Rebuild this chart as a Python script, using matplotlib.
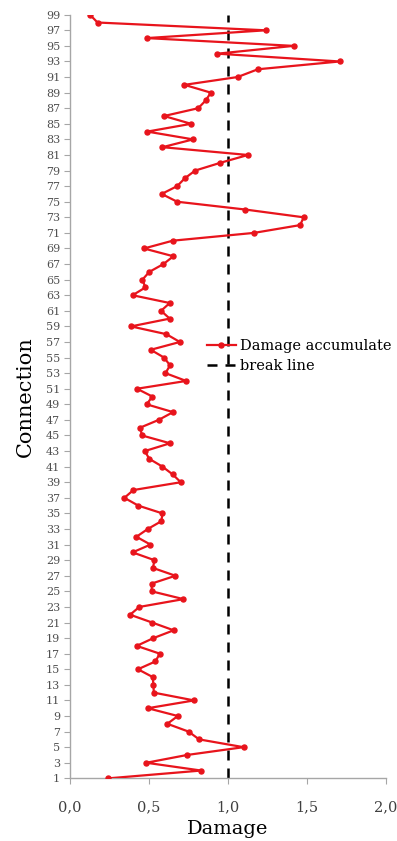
import numpy as np
import matplotlib
matplotlib.use("Agg")
import matplotlib.pyplot as plt
from matplotlib.ticker import FuncFormatter

# connection number and accumulated damage
connection = np.arange(1, 100)
damage = [
    0.243, 0.831, 0.484, 0.742, 1.099, 0.818, 0.751, 0.617, 0.683, 0.493,  # 1-10
    0.786, 0.531, 0.529, 0.524, 0.431, 0.541, 0.569, 0.423, 0.529, 0.657,  # 11-20
    0.520, 0.381, 0.440, 0.719, 0.518, 0.518, 0.668, 0.526, 0.535, 0.397,  # 21-30
    0.510, 0.421, 0.493, 0.579, 0.586, 0.433, 0.345, 0.402, 0.702, 0.651,  # 31-40
    0.586, 0.503, 0.474, 0.634, 0.457, 0.444, 0.562, 0.653, 0.486, 0.522,  # 41-50
    0.425, 0.736, 0.605, 0.634, 0.596, 0.512, 0.696, 0.611, 0.387, 0.632,  # 51-60
    0.577, 0.632, 0.397, 0.478, 0.459, 0.503, 0.592, 0.655, 0.469, 0.651,  # 61-70
    1.165, 1.457, 1.480, 1.110, 0.679, 0.581, 0.679, 0.727, 0.793, 0.953,  # 71-80
    1.127, 0.586, 0.780, 0.490, 0.767, 0.596, 0.812, 0.860, 0.892, 0.725,  # 81-90
    1.061, 1.190, 1.708, 0.934, 1.416, 0.486, 1.240, 0.175, 0.127,         # 91-99
]
break_value = 1.0

serif = ["DejaVu Serif"]
plt.rcParams["font.family"] = serif

fig = plt.figure(figsize=(3.97, 8.41), dpi=100)
ax = fig.add_axes([0.176, 0.0745, 0.796, 0.908])

ax.plot(damage, connection, color="#e8141c", lw=1.6, marker="o", ms=3.6,
        label="Damage accumulate", zorder=3)
ax.plot([break_value, break_value], [1, 99], color="black", lw=1.8,
        ls=(0, (4, 3.2)), label="break line", zorder=2)

ax.set_xlim(0, 2)
ax.set_ylim(1, 99)
ax.set_xticks([0, 0.5, 1.0, 1.5, 2.0])
ax.xaxis.set_major_formatter(FuncFormatter(lambda v, p: f"{v:.1f}".replace(".", ",")))
ax.set_yticks(np.arange(1, 100, 2))

for s in ["top", "right"]:
    ax.spines[s].set_visible(False)
for s in ["left", "bottom"]:
    ax.spines[s].set_color("#a6a6a6")
    ax.spines[s].set_linewidth(1.0)

ax.tick_params(axis="y", direction="out", length=4, color="#a6a6a6",
               labelsize=8, labelcolor="#505050", pad=3)
ax.tick_params(axis="x", direction="out", length=4, color="#a6a6a6",
               labelsize=10.5, labelcolor="#404040", pad=12)

ax.set_xlabel("Damage", fontsize=14, labelpad=4)
ax.set_ylabel("Connection", fontsize=15, labelpad=8)

ax.legend(loc="center left", bbox_to_anchor=(0.415, 0.553), frameon=False,
          fontsize=10.5, numpoints=1, handlelength=2.0, handletextpad=0.3,
          labelspacing=0.45, borderaxespad=0)

fig.savefig("out.png", dpi=100)
